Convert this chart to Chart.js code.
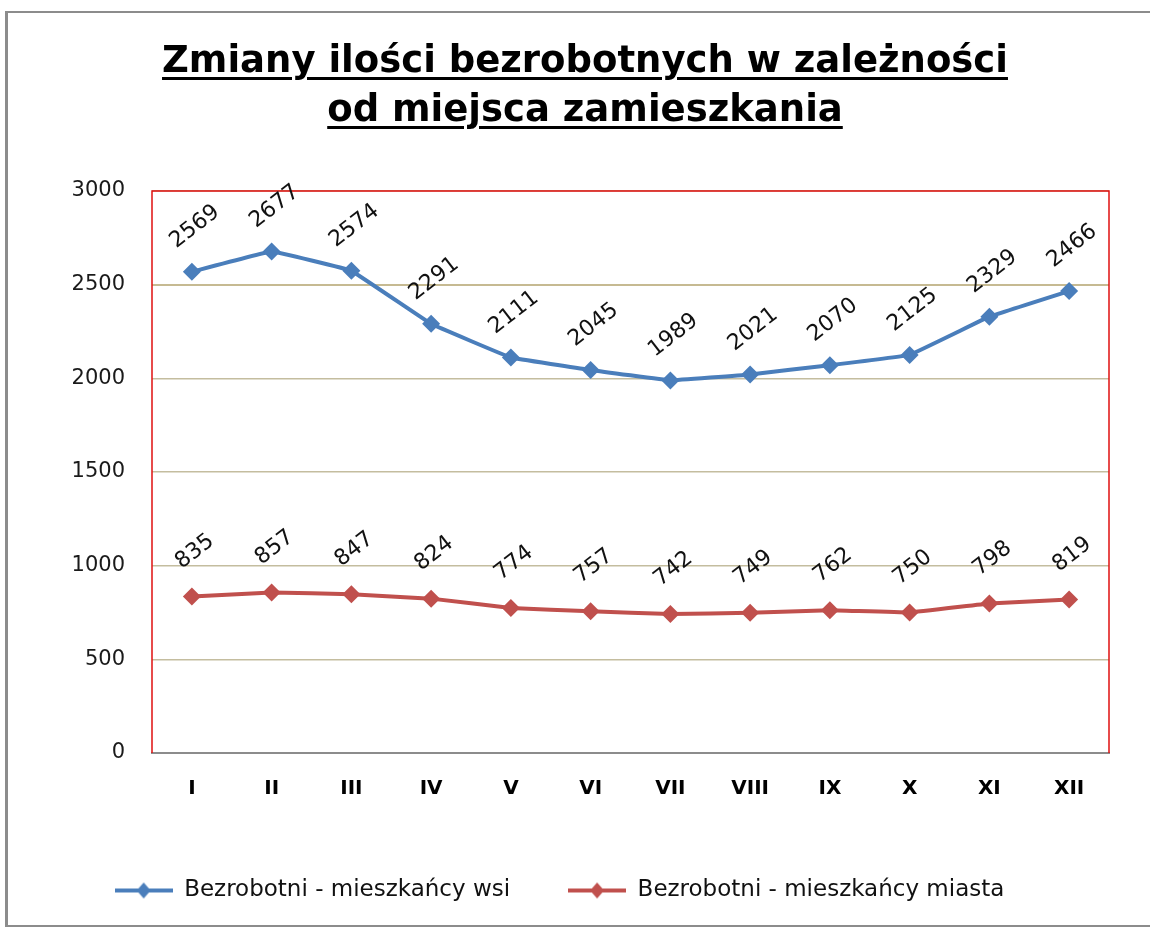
<!DOCTYPE html>
<html>
<head>
<meta charset="utf-8">
<script src="https://cdn.jsdelivr.net/npm/chart.js@4"></script>
<style>
    body { margin: 0; background: #fff; }
    #wrap { position: relative; width: 1150px; height: 929px; overflow: hidden; }
    #frame { position: absolute; left: 5px; top: 11px; width: 1200px; height: 912px;
             border-left: 3px solid #8c8c8c; border-top: 2px solid #8c8c8c; border-bottom: 2px solid #8c8c8c; }
    #title { position: absolute; left: 10px; top: 35px; width: 1150px; text-align: center;
             font: bold 37px "DejaVu Sans", sans-serif; line-height: 49px; color: #000;
             text-decoration: underline; text-decoration-thickness: 3px; text-underline-offset: 5px; }
    #chartBox { position: absolute; left: 0; top: 0; width: 1150px; height: 929px; }
</style>
</head>
<body>
<div id="wrap">
    <div id="frame"></div>
    <div id="chartBox"><canvas id="wykres"></canvas></div>
    <div id="title">Zmiany ilości bezrobotnych w zależności<br>od miejsca zamieszkania</div>
</div>
<script>
const miesiace = ['I', 'II', 'III', 'IV', 'V', 'VI', 'VII', 'VIII', 'IX', 'X', 'XI', 'XII'];
const wies = [2569, 2677, 2574, 2291, 2111, 2045, 1989, 2021, 2070, 2125, 2329, 2466];
const miasto = [835, 857, 847, 824, 774, 757, 742, 749, 762, 750, 798, 819];
const seriaNazwy = ['Bezrobotni - mieszkańcy wsi', 'Bezrobotni - mieszkańcy miasta'];
const kolory = ['#4a7ebb', '#c0504d'];

// linia z rombem do legendy
function znacznikLegendy(kolor) {
    const c = document.createElement('canvas');
    c.width = 58; c.height = 18;
    const g = c.getContext('2d');
    g.strokeStyle = kolor; g.lineWidth = 4;
    g.beginPath(); g.moveTo(0, 9); g.lineTo(58, 9); g.stroke();
    g.fillStyle = kolor;
    g.beginPath(); g.moveTo(29, 1); g.lineTo(36, 9); g.lineTo(29, 17); g.lineTo(22, 9); g.closePath(); g.fill();
    return c;
}

const etykietyPunktow = {
    id: 'etykietyPunktow',
    afterDatasetsDraw(chart) {
        const ctx = chart.ctx;
        chart.data.datasets.forEach((ds, i) => {
            chart.getDatasetMeta(i).data.forEach((pt, j) => {
                ctx.save();
                ctx.translate(pt.x + 3, pt.y - 45);
                ctx.rotate(-38 * Math.PI / 180);
                ctx.font = '22px "DejaVu Sans"';
                ctx.fillStyle = '#111';
                ctx.textAlign = 'center';
                ctx.textBaseline = 'middle';
                ctx.fillText(ds.data[j], 0, 0);
                ctx.restore();
            });
        });
    }
};

const ramkaWykresu = {
    id: 'ramkaWykresu',
    beforeDatasetsDraw(chart) {
        const {ctx, chartArea: a} = chart;
        ctx.save();
        ctx.strokeStyle = '#e01010';
        ctx.lineWidth = 1.5;
        ctx.beginPath();
        ctx.moveTo(a.left, a.bottom); ctx.lineTo(a.left, a.top);
        ctx.lineTo(a.right, a.top); ctx.lineTo(a.right, a.bottom);
        ctx.stroke();
        ctx.restore();
    }
};

const ctx = document.getElementById('wykres').getContext('2d');
new Chart(ctx, {
    type: 'line',
    data: {
        labels: miesiace,
        datasets: [wies, miasto].map((d, i) => ({
            label: seriaNazwy[i],
            data: d,
            borderColor: kolory[i],
            backgroundColor: kolory[i],
            borderWidth: 4,
            pointStyle: 'rectRot',
            pointRadius: 9,
            pointBorderWidth: 0,
            tension: 0.05
        }))
    },
    options: {
        responsive: true,
        maintainAspectRatio: false,
        animation: false,
        layout: { padding: { top: 191, left: 10, right: 41, bottom: 17 } },
        scales: {
            x: {
                offset: true,
                grid: { display: false },
                border: { color: '#8c8c8c', width: 2 },
                ticks: { color: '#000', padding: 16, font: { family: 'DejaVu Sans', size: 20, weight: 'bold' } },
                afterFit: s => { s.height = 68; }
            },
            y: {
                min: 0, max: 3000,
                ticks: { stepSize: 500, color: '#1a1a1a', padding: 27, font: { family: 'DejaVu Sans', size: 21 },
                         callback: v => String(v) },
                grid: {
                    drawTicks: false,
                    color: c => c.tick.value === 0 ? '#8c8c8c' : (c.tick.value === 2500 ? '#c6ba92' : '#c4bd9f'),
                    lineWidth: c => (c.tick.value === 0 || c.tick.value === 2500) ? 2 : 1.5
                },
                border: { display: false },
                afterFit: s => { s.width = 142; }
            }
        },
        plugins: {
            legend: {
                position: 'bottom',
                labels: {
                    usePointStyle: true,
                    pointStyleWidth: 58,
                    padding: 58,
                    color: '#111',
                    font: { family: 'DejaVu Sans', size: 23 },
                    generateLabels: chart => Chart.defaults.plugins.legend.labels.generateLabels(chart)
                        .map((l, i) => Object.assign(l, { pointStyle: znacznikLegendy(kolory[i]) }))
                }
            },
            tooltip: { enabled: false }
        }
    },
    plugins: [ramkaWykresu, etykietyPunktow]
});
</script>
</body>
</html>
